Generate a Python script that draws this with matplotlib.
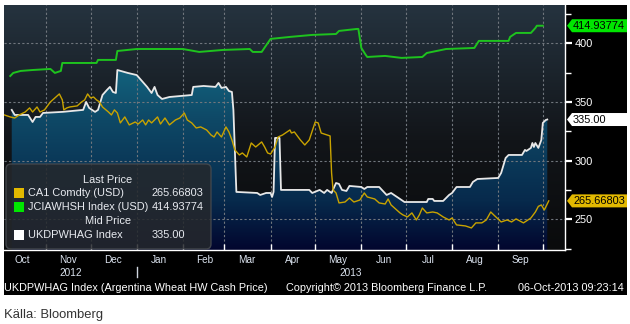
import matplotlib
matplotlib.use("Agg")
import numpy as np
import pandas as pd
import matplotlib.pyplot as plt
import matplotlib.transforms as mtransforms
from matplotlib.patches import Rectangle, FancyBboxPatch, Polygon
from matplotlib.colors import LinearSegmentedColormap

# ---------------- data ----------------
ca1_dates = [
    "2012-10-04", "2012-10-08", "2012-10-11", "2012-10-14", "2012-10-18", "2012-10-21",
    "2012-10-23", "2012-10-26", "2012-10-28", "2012-10-31", "2012-11-04", "2012-11-07",
    "2012-11-10", "2012-11-12", "2012-11-13", "2012-11-15", "2012-11-17", "2012-11-22",
    "2012-11-25", "2012-11-27", "2012-11-29", "2012-12-01", "2012-12-03", "2012-12-05",
    "2012-12-07", "2012-12-09", "2012-12-13", "2012-12-15", "2012-12-17", "2012-12-19",
    "2012-12-21", "2012-12-24", "2012-12-27", "2012-12-31", "2013-01-02", "2013-01-05",
    "2013-01-07", "2013-01-09", "2013-01-11", "2013-01-15", "2013-01-17", "2013-01-20",
    "2013-01-23", "2013-01-27", "2013-01-30", "2013-02-02", "2013-02-04", "2013-02-07",
    "2013-02-10", "2013-02-13", "2013-02-17", "2013-02-20", "2013-02-22", "2013-02-24",
    "2013-02-27", "2013-03-02", "2013-03-04", "2013-03-06", "2013-03-08", "2013-03-11",
    "2013-03-13", "2013-03-16", "2013-03-19", "2013-03-22", "2013-03-26", "2013-03-28",
    "2013-03-30", "2013-04-01", "2013-04-04", "2013-04-06", "2013-04-09", "2013-04-14",
    "2013-04-15", "2013-04-17", "2013-04-21", "2013-04-24", "2013-04-27", "2013-05-01",
    "2013-05-03", "2013-05-05", "2013-05-09", "2013-05-11", "2013-05-12", "2013-05-13",
    "2013-05-15", "2013-05-17", "2013-05-21", "2013-05-24", "2013-05-27", "2013-05-31",
    "2013-06-03", "2013-06-05", "2013-06-10", "2013-06-13", "2013-06-17", "2013-06-19",
    "2013-06-21", "2013-06-27", "2013-06-29", "2013-07-02", "2013-07-05", "2013-07-08",
    "2013-07-10", "2013-07-12", "2013-07-15", "2013-07-19", "2013-07-22", "2013-07-26",
    "2013-07-30", "2013-08-01", "2013-08-04", "2013-08-10", "2013-08-14", "2013-08-17",
    "2013-08-21", "2013-08-24", "2013-08-27", "2013-08-29", "2013-09-03", "2013-09-07",
    "2013-09-10", "2013-09-13", "2013-09-18", "2013-09-23", "2013-09-26", "2013-09-28",
    "2013-09-30", "2013-10-02", "2013-10-05",
]
ca1_values = [
    338.9, 337.2, 336.3, 338.9, 341.4, 344.9,
    341.4, 345.7, 341.4, 343.2, 350.0, 353.4,
    356.8, 351.7, 343.2, 344.9, 345.7, 346.6,
    350.0, 351.7, 356.8, 353.4, 354.2, 351.7,
    350.0, 345.7, 341.4, 338.9, 343.2, 340.6,
    332.1, 337.2, 330.4, 332.9, 331.2, 334.6,
    330.4, 334.6, 332.1, 337.2, 331.2, 336.3,
    330.4, 334.6, 336.3, 340.6, 334.6, 332.1,
    327.8, 328.7, 326.1, 321.8, 320.1, 324.4,
    320.1, 328.7, 324.4, 317.6, 309.1, 304.8,
    306.5, 303.1, 315.0, 311.6, 315.9, 311.6,
    306.5, 305.6, 311.6, 320.1, 321.8, 326.1,
    323.5, 324.4, 317.6, 313.3, 317.6, 332.9,
    332.1, 323.5, 321.8, 321.0, 289.5, 275.0,
    272.4, 263.9, 264.7, 268.1, 264.7, 266.4,
    272.4, 269.0, 267.3, 263.9, 263.0, 267.3,
    262.2, 255.4, 253.7, 252.0, 255.4, 249.4,
    253.7, 259.6, 255.4, 256.2, 255.4, 252.0,
    249.4, 251.1, 245.2, 244.3, 242.6, 246.9,
    246.9, 249.4, 256.2, 253.7, 247.7, 249.4,
    247.7, 250.3, 246.9, 251.1, 256.2, 261.0,
    262.2, 257.9, 265.66803,
]

jci_dates = [
    "2012-10-08", "2012-10-10", "2012-10-15", "2012-10-23", "2012-11-04", "2012-11-07",
    "2012-11-11", "2012-11-12", "2012-12-05", "2012-12-06", "2012-12-18", "2012-12-19",
    "2013-01-01", "2013-02-01", "2013-02-12", "2013-02-28", "2013-03-18", "2013-03-20",
    "2013-03-26", "2013-04-01", "2013-04-14", "2013-04-29", "2013-05-15", "2013-05-17",
    "2013-05-29", "2013-05-30", "2013-06-01", "2013-06-04", "2013-06-05", "2013-06-17",
    "2013-06-28", "2013-07-12", "2013-07-15", "2013-07-28", "2013-08-16", "2013-08-19",
    "2013-09-08", "2013-09-09", "2013-09-13", "2013-09-23", "2013-09-26", "2013-09-27",
    "2013-10-01",
]
jci_values = [
    372.1, 374.7, 376.4, 377.2, 378.1, 374.7,
    376.4, 383.2, 383.2, 385.8, 385.8, 393.4,
    395.1, 395.1, 392.6, 394.3, 395.1, 392.6,
    392.6, 403.7, 405.4, 407.1, 407.9, 410.5,
    412.2, 412.2, 396.0, 390.0, 388.3, 389.2,
    387.5, 388.3, 391.7, 395.1, 396.0, 402.0,
    402.0, 405.4, 408.8, 408.8, 413.0, 414.93774,
    414.93774,
]

ukd_dates = [
    "2012-10-09", "2012-10-11", "2012-10-20", "2012-10-23", "2012-10-25", "2012-10-28",
    "2012-10-30", "2012-11-12", "2012-11-26", "2012-11-28", "2012-11-30", "2012-12-04",
    "2012-12-06", "2012-12-09", "2012-12-12", "2012-12-14", "2012-12-16", "2012-12-18",
    "2012-12-19", "2012-12-26", "2013-01-01", "2013-01-08", "2013-01-11", "2013-01-13",
    "2013-01-15", "2013-01-18", "2013-01-23", "2013-01-31", "2013-02-07", "2013-02-08",
    "2013-02-15", "2013-02-23", "2013-02-25", "2013-02-27", "2013-03-02", "2013-03-04",
    "2013-03-06", "2013-03-07", "2013-03-09", "2013-03-23", "2013-03-25", "2013-03-29",
    "2013-04-01", "2013-04-02", "2013-04-03", "2013-04-04", "2013-04-07", "2013-04-08",
    "2013-04-10", "2013-04-27", "2013-04-29", "2013-05-04", "2013-05-07", "2013-05-09",
    "2013-05-12", "2013-05-15", "2013-05-17", "2013-05-19", "2013-05-22", "2013-05-24",
    "2013-06-01", "2013-06-03", "2013-06-05", "2013-06-13", "2013-06-18", "2013-06-21",
    "2013-06-25", "2013-06-30", "2013-07-15", "2013-07-16", "2013-07-19", "2013-07-20",
    "2013-07-26", "2013-07-30", "2013-08-01", "2013-08-04", "2013-08-13", "2013-08-15",
    "2013-08-18", "2013-09-01", "2013-09-03", "2013-09-06", "2013-09-08", "2013-09-17",
    "2013-09-19", "2013-09-20", "2013-09-23", "2013-09-24", "2013-09-25", "2013-09-26",
    "2013-09-28", "2013-09-30", "2013-10-01", "2013-10-03", "2013-10-04",
]
ukd_values = [
    343.2, 338.9, 338.9, 332.9, 337.2, 337.2,
    340.6, 341.5, 343.2, 350.0, 344.9, 341.5,
    343.2, 355.9, 360.2, 362.8, 358.5, 357.6,
    377.2, 374.7, 372.9, 362.8, 357.6, 362.8,
    355.9, 352.5, 354.2, 355.1, 355.9, 362.8,
    363.6, 362.8, 366.2, 361.9, 362.8, 359.3,
    358.5, 343.2, 273.3, 272.4, 270.7, 272.4,
    272.4, 269.0, 273.3, 319.3, 319.3, 275.0,
    275.0, 275.0, 272.4, 275.0, 272.4, 275.0,
    272.4, 280.9, 280.1, 275.0, 274.1, 278.4,
    277.5, 275.8, 277.5, 277.5, 270.7, 272.4,
    269.0, 264.7, 264.7, 267.3, 267.3, 265.6,
    265.6, 270.7, 272.4, 277.5, 277.5, 281.8,
    284.3, 285.2, 289.5, 302.2, 304.8, 304.8,
    309.1, 308.2, 310.8, 315.0, 311.6, 315.0,
    310.8, 317.6, 332.1, 334.6, 335.00,
]

month_labels = ["Oct", "Nov", "Dec", "Jan", "Feb", "Mar", "Apr", "May", "Jun", "Jul", "Aug", "Sep"]
year_labels = ["2012", "2013"]
y_major = [250, 300, 350, 400]
y_minor = [225, 275, 325, 375, 425]

legend_rows = [
    ("CA1 Comdty (USD)", "#e2b900", f"{ca1_values[-1]:.5f}"),
    ("JCIAWHSH Index (USD)", "#00e600", f"{jci_values[-1]:.5f}"),
    ("UKDPWHAG Index", "#ffffff", f"{ukd_values[-1]:.2f}"),
]

plt.rcParams["font.family"] = ["Liberation Sans", "DejaVu Sans"]

# ---------------- figure ----------------
W, H = 630, 324
fig = plt.figure(figsize=(W / 100, H / 100), dpi=100, facecolor="white")


def fx(px):
    return px / W


def fy(py):
    return 1 - py / H


# terminal panel
fig.add_artist(Rectangle((fx(4), fy(295)), (627 - 4) / W, (295 - 5) / H,
                         transform=fig.transFigure, facecolor="black",
                         edgecolor="none", zorder=-2))

rect = [fx(4), fy(250), (565 - 4) / W, (250 - 5) / H]

# vertical background gradient behind the plot
bgax = fig.add_axes(rect, zorder=-1)
bg_cmap = LinearSegmentedColormap.from_list(
    "bg", [(0.0, "#0a0b0c"), (0.45, "#121519"), (1.0, "#25333f")])
grad = np.linspace(0, 1, 256).reshape(-1, 1)
bgax.imshow(grad, cmap=bg_cmap, origin="lower", aspect="auto",
            extent=[0, 1, 0, 1], interpolation="bicubic")
bgax.axis("off")

ax = fig.add_axes(rect, zorder=0)
ax.set_facecolor("none")

x_lo = pd.Timestamp("2012-10-03 19:00")
x_hi = pd.Timestamp("2013-10-15 22:00")
y_lo, y_hi = 223.8, 432.6

ca1_x = pd.to_datetime(ca1_dates)
jci_x = pd.to_datetime(jci_dates)
ukd_x = pd.to_datetime(ukd_dates)

# area under the UKDPWHAG series, filled with a vertical gradient
poly = ax.fill_between(ukd_x, ukd_values, y_lo, facecolor="none", edgecolor="none")
fill_cmap = LinearSegmentedColormap.from_list(
    "fill", [(0.0, "#02062e"), (0.2, "#072a4c"), (0.53, "#0e4866"),
             (0.735, "#13627d"), (1.0, "#187a96")])
x0n = matplotlib.dates.date2num(x_lo)
x1n = matplotlib.dates.date2num(x_hi)
img = ax.imshow(grad, cmap=fill_cmap, origin="lower", aspect="auto",
                extent=[x0n, x1n, y_lo, y_hi], zorder=1.2, interpolation="bicubic")
img.set_clip_path(poly.get_paths()[0], transform=ax.transData)

ax.plot(ukd_x, ukd_values, color="#e8e8e8", lw=1.3, zorder=3)
ax.plot(jci_x, jci_values, color="#1ec31e", lw=1.4, zorder=3)
ax.plot(ca1_x, ca1_values, color="#c9a300", lw=1.0, zorder=4)

ax.set_xlim(x_lo, x_hi)
ax.set_ylim(y_lo, y_hi)

# month boundaries carry the grid, mid-month positions carry the labels
month_starts = pd.date_range("2012-11-01", "2013-10-01", freq="MS")
month_mids = pd.date_range("2012-10-01", "2013-09-01", freq="MS") + pd.Timedelta(days=15)
ax.set_xticks(month_starts)
ax.set_xticklabels([])
ax.set_xticks(month_mids, labels=month_labels, minor=True)

ax.yaxis.tick_right()
ax.set_yticks(y_major)
ax.set_yticks(y_minor, minor=True)
ax.yaxis.set_tick_params(which="minor", labelright=False)

ax.set_axisbelow("line")
ax.grid(True, which="major", color="#70767d", lw=0.8, ls=(0, (2, 2)))

ax.tick_params(axis="x", which="major", direction="in", length=4, width=1, color="white")
ax.tick_params(axis="x", which="minor", length=0, pad=3.5, labelcolor="#dce4f0",
               labelsize=7.2)
ax.tick_params(axis="y", which="major", direction="out", length=5, width=1.6,
               color="white", labelcolor="white", labelsize=7.9, pad=2)
ax.tick_params(axis="y", which="minor", direction="out", length=4, width=1, color="white")

for side in ("top", "left"):
    ax.spines[side].set_visible(False)
for side in ("right", "bottom"):
    ax.spines[side].set_color("white")
    ax.spines[side].set_linewidth(1)

# year labels centred on the visible part of each year
trans = mtransforms.blended_transform_factory(ax.transData, ax.transAxes)
jan1 = pd.Timestamp("2013-01-01")
year_spans = [(x_lo, jan1), (jan1, x_hi)]
for label, (a, b) in zip(year_labels, year_spans):
    ax.text(a + (b - a) / 2, -0.092, label, transform=trans, ha="center", va="center",
            color="#dce4f0", fontsize=7.2)
ax.plot([jan1, jan1], [-0.07, -0.112], transform=trans, clip_on=False,
        color="#cfd6e0", lw=1)

# ---------------- overlay in pixel units ----------------
ov = fig.add_axes([0, 0, 1, 1], zorder=5)
ov.set_xlim(0, W)
ov.set_ylim(H, 0)
ov.axis("off")
ov.patch.set_alpha(0)

# legend panel
ov.add_patch(FancyBboxPatch((6, 164), 205, 85,
                            boxstyle="round,pad=0,rounding_size=5",
                            facecolor="#25282c", edgecolor="#474b50", lw=1, alpha=0.86))
tc = "#e8ebf0"
fs = 7.9
ov.text(108, 180, "Last Price", ha="center", va="center", color=tc, fontsize=fs)
ov.text(108, 221, "Mid Price", ha="center", va="center", color=tc, fontsize=fs)
for (name, col, val), py in zip(legend_rows, [193, 207, 235]):
    ov.add_patch(Rectangle((14, py - 5), 10, 10, facecolor=col, edgecolor="none"))
    ov.text(28, py, name, ha="left", va="center", color=tc, fontsize=fs)
    ov.text(152, py, val, ha="left", va="center", color=tc, fontsize=fs)


def ypix(v):
    return 5 + (y_hi - v) / (y_hi - y_lo) * 245


# last-value tags on the right axis
tags = [
    (jci_values[-1], "#00e600", f"{jci_values[-1]:.5f}"),
    (ukd_values[-1], "#ffffff", f"{ukd_values[-1]:.2f}"),
    (ca1_values[-1], "#e2b900", f"{ca1_values[-1]:.5f}"),
]
for val, col, txt in tags:
    py = ypix(val)
    h = 6.5
    ov.add_patch(Polygon([(567, py), (572, py - h), (627, py - h), (627, py + h), (572, py + h)],
                         closed=True, facecolor=col, edgecolor="none"))
    ov.text(573, py, txt, ha="left", va="center", color="black", fontsize=7.9)

# footer lines
ov.text(4, 288, "UKDPWHAG Index (Argentina Wheat HW Cash Price)", ha="left", va="center",
        color="white", fontsize=7.8)
ov.text(286, 288, "Copyright\u00a9 2013 Bloomberg Finance L.P.", ha="left", va="center",
        color="white", fontsize=7.8)
ov.text(624, 288, "06-Oct-2013 09:23:14", ha="right", va="center",
        color="white", fontsize=7.8)

ov.text(4, 318, "Källa: Bloomberg", ha="left", va="baseline", color="#333333",
        fontsize=9.4)

fig.savefig("out.png", dpi=100, facecolor="white")
